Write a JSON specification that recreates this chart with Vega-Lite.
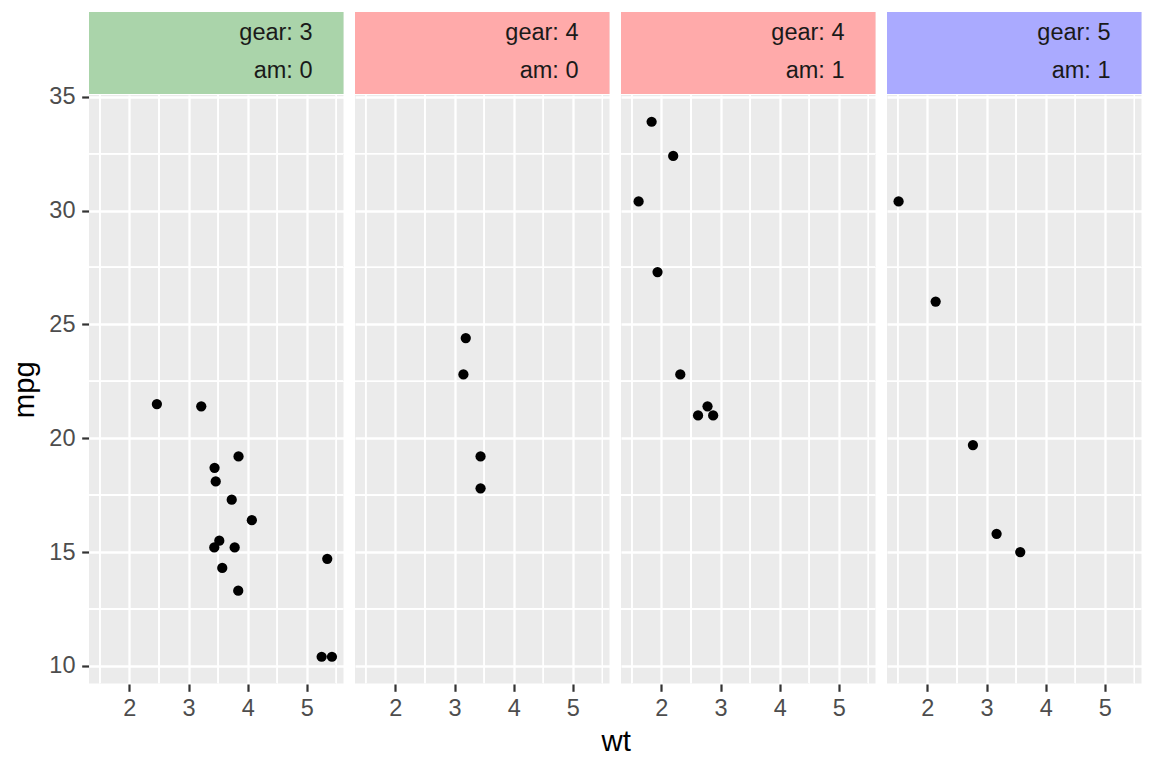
{
  "$schema": "https://vega.github.io/schema/vega-lite/v6.json",
  "padding": {"left": 10, "top": 12, "right": 5, "bottom": 5},
  "title": {"text": "wt", "orient": "bottom", "anchor": "middle", "fontSize": 29.3, "fontWeight": "normal", "color": "#000000", "font": "Liberation Sans", "offset": 8, "dx": 40},
  "spacing": -10,
  "vconcat": [
    {
      "data": {"values": [
        {"panel": "3-0", "gear": "3", "gear_label": "gear: 3", "am_label": "am: 0"},
        {"panel": "4-0", "gear": "4", "gear_label": "gear: 4", "am_label": "am: 0"},
        {"panel": "4-1", "gear": "4", "gear_label": "gear: 4", "am_label": "am: 1"},
        {"panel": "5-1", "gear": "5", "gear_label": "gear: 5", "am_label": "am: 1"}
      ]},
      "facet": {"column": {"field": "panel", "type": "nominal", "header": null}},
      "spacing": 11,
      "spec": {
        "width": 254.5,
        "height": 82,
        "layer": [
          {
            "mark": {"type": "rect"},
            "encoding": {
              "color": {"field": "gear", "type": "nominal", "scale": {"domain": ["3", "4", "5"], "range": ["#AAD4AA", "#FFAAAA", "#AAAAFF"]}, "legend": null}
            }
          },
          {
            "mark": {"type": "text", "align": "right", "baseline": "middle", "fontSize": 23.5, "color": "#1A1A1A", "font": "Liberation Sans", "dx": -31, "dy": 21},
            "encoding": {"x": {"value": "width"}, "y": {"value": 0}, "text": {"field": "gear_label", "type": "nominal"}}
          },
          {
            "mark": {"type": "text", "align": "right", "baseline": "middle", "fontSize": 23.5, "color": "#1A1A1A", "font": "Liberation Sans", "dx": -31, "dy": 59.3},
            "encoding": {"x": {"value": "width"}, "y": {"value": 0}, "text": {"field": "am_label", "type": "nominal"}}
          },
          {
            "mark": {"type": "rule", "opacity": 0},
            "encoding": {
              "y": {"datum": 35, "type": "quantitative", "scale": {"domain": [30, 40]},
                "axis": {"values": [35], "format": "d", "labelColor": "transparent", "tickColor": "transparent", "grid": false, "title": "mpg", "titleColor": "transparent"}}
            }
          }
        ]
      }
    },
    {
      "data": {"values": [
        {"panel": "4-1", "wt": 2.62, "mpg": 21.0},
        {"panel": "4-1", "wt": 2.875, "mpg": 21.0},
        {"panel": "4-1", "wt": 2.32, "mpg": 22.8},
        {"panel": "3-0", "wt": 3.215, "mpg": 21.4},
        {"panel": "3-0", "wt": 3.44, "mpg": 18.7},
        {"panel": "3-0", "wt": 3.46, "mpg": 18.1},
        {"panel": "3-0", "wt": 3.57, "mpg": 14.3},
        {"panel": "4-0", "wt": 3.19, "mpg": 24.4},
        {"panel": "4-0", "wt": 3.15, "mpg": 22.8},
        {"panel": "4-0", "wt": 3.44, "mpg": 19.2},
        {"panel": "4-0", "wt": 3.44, "mpg": 17.8},
        {"panel": "3-0", "wt": 4.07, "mpg": 16.4},
        {"panel": "3-0", "wt": 3.73, "mpg": 17.3},
        {"panel": "3-0", "wt": 3.78, "mpg": 15.2},
        {"panel": "3-0", "wt": 5.25, "mpg": 10.4},
        {"panel": "3-0", "wt": 5.424, "mpg": 10.4},
        {"panel": "3-0", "wt": 5.345, "mpg": 14.7},
        {"panel": "4-1", "wt": 2.2, "mpg": 32.4},
        {"panel": "4-1", "wt": 1.615, "mpg": 30.4},
        {"panel": "4-1", "wt": 1.835, "mpg": 33.9},
        {"panel": "3-0", "wt": 2.465, "mpg": 21.5},
        {"panel": "3-0", "wt": 3.52, "mpg": 15.5},
        {"panel": "3-0", "wt": 3.435, "mpg": 15.2},
        {"panel": "3-0", "wt": 3.84, "mpg": 13.3},
        {"panel": "3-0", "wt": 3.845, "mpg": 19.2},
        {"panel": "4-1", "wt": 1.935, "mpg": 27.3},
        {"panel": "5-1", "wt": 2.14, "mpg": 26.0},
        {"panel": "5-1", "wt": 1.513, "mpg": 30.4},
        {"panel": "5-1", "wt": 3.17, "mpg": 15.8},
        {"panel": "5-1", "wt": 2.77, "mpg": 19.7},
        {"panel": "5-1", "wt": 3.57, "mpg": 15.0},
        {"panel": "4-1", "wt": 2.78, "mpg": 21.4}
      ]},
      "facet": {"column": {"field": "panel", "type": "nominal", "header": null}},
      "spacing": 11,
      "spec": {
        "width": 254.5,
        "height": 588.5,
        "layer": [
          {"mark": {"type": "rule", "color": "#FFFFFF", "strokeWidth": 1.2, "clip": true}, "encoding": {"x": {"datum": 1.5, "type": "quantitative"}}},
          {"mark": {"type": "rule", "color": "#FFFFFF", "strokeWidth": 1.2, "clip": true}, "encoding": {"x": {"datum": 2.5, "type": "quantitative"}}},
          {"mark": {"type": "rule", "color": "#FFFFFF", "strokeWidth": 1.2, "clip": true}, "encoding": {"x": {"datum": 3.5, "type": "quantitative"}}},
          {"mark": {"type": "rule", "color": "#FFFFFF", "strokeWidth": 1.2, "clip": true}, "encoding": {"x": {"datum": 4.5, "type": "quantitative"}}},
          {"mark": {"type": "rule", "color": "#FFFFFF", "strokeWidth": 1.2, "clip": true}, "encoding": {"x": {"datum": 5.5, "type": "quantitative"}}},
          {"mark": {"type": "rule", "color": "#FFFFFF", "strokeWidth": 1.2, "clip": true}, "encoding": {"y": {"datum": 12.5, "type": "quantitative"}}},
          {"mark": {"type": "rule", "color": "#FFFFFF", "strokeWidth": 1.2, "clip": true}, "encoding": {"y": {"datum": 17.5, "type": "quantitative"}}},
          {"mark": {"type": "rule", "color": "#FFFFFF", "strokeWidth": 1.2, "clip": true}, "encoding": {"y": {"datum": 22.5, "type": "quantitative"}}},
          {"mark": {"type": "rule", "color": "#FFFFFF", "strokeWidth": 1.2, "clip": true}, "encoding": {"y": {"datum": 27.5, "type": "quantitative"}}},
          {"mark": {"type": "rule", "color": "#FFFFFF", "strokeWidth": 1.2, "clip": true}, "encoding": {"y": {"datum": 32.5, "type": "quantitative"}}},
          {
            "mark": {"type": "point", "filled": true, "size": 105, "color": "#000000", "opacity": 1, "strokeWidth": 0},
            "encoding": {
              "x": {"field": "wt", "type": "quantitative", "scale": {"domain": [1.31745, 5.61955], "nice": false, "zero": false},
                "axis": {"values": [2, 3, 4, 5], "format": "d", "title": null, "orient": "bottom"}},
              "y": {"field": "mpg", "type": "quantitative", "scale": {"domain": [9.225, 35.075], "nice": false, "zero": false},
                "axis": {"values": [10, 15, 20, 25, 30, 35], "format": "d", "title": "mpg", "orient": "left"}}
            }
          }
        ]
      }
    }
  ],
  "config": {
    "font": "Liberation Sans",
    "view": {"fill": "#EBEBEB", "stroke": null},
    "axis": {
      "domain": false,
      "grid": true,
      "gridColor": "#FFFFFF",
      "gridWidth": 2.3,
      "tickColor": "#333333",
      "tickWidth": 2.2,
      "tickSize": 7.3,
      "labelColor": "#4D4D4D",
      "labelFontSize": 23.5,
      "labelFont": "Liberation Sans",
      "labelFlush": false,
      "labelOverlap": false,
      "titleFontSize": 29.3,
      "titleFontWeight": "normal",
      "titleColor": "#000000",
      "titleFont": "Liberation Sans"
    },
    "axisY": {"labelPadding": 6.7, "titlePadding": 9},
    "axisX": {"labelPadding": 5}
  }
}
